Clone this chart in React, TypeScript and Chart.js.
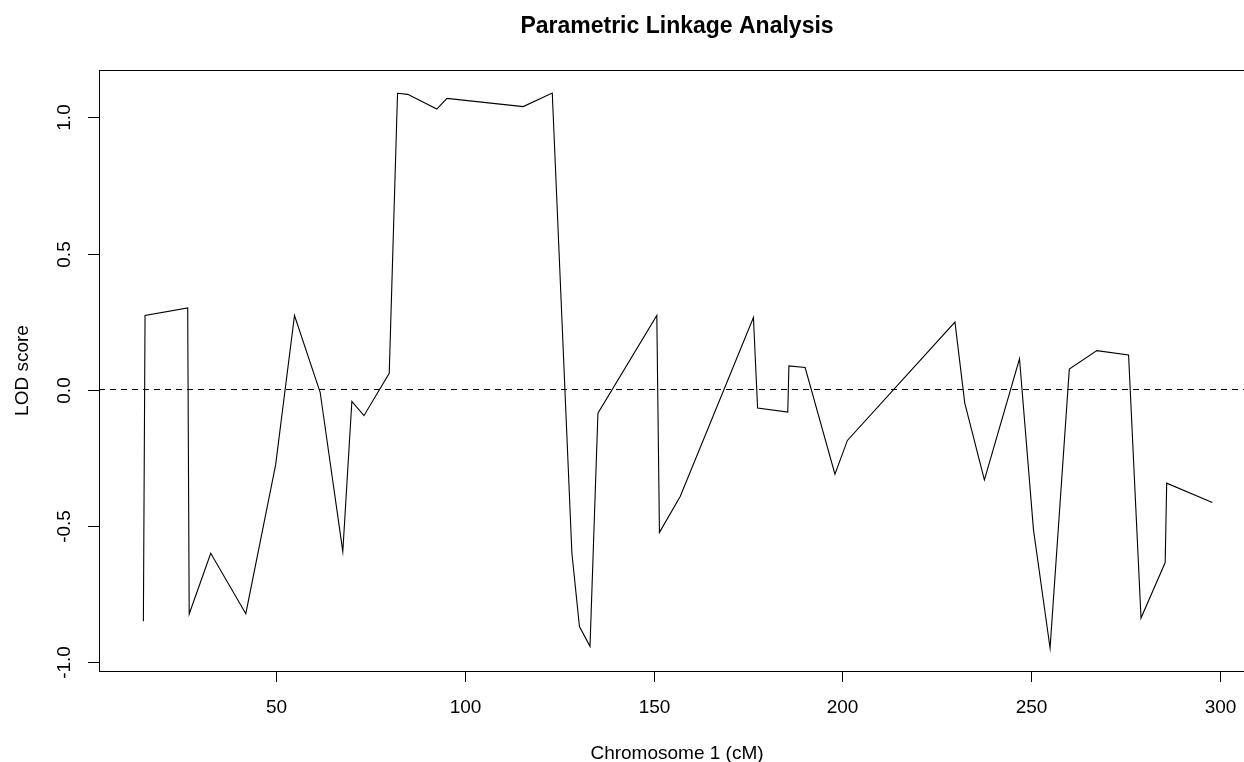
import React, { useEffect, useRef } from "react";
import { Chart, registerables } from "chart.js";

Chart.register(...registerables);

// ---- data ----
const positionsCM = [
  14.76, 15.2, 26.5, 26.9, 32.6, 41.9, 49.8, 54.8, 61.6, 67.6,
  70.0, 73.2, 79.9, 82.1, 84.8, 92.5, 95.2, 115.4, 123.1, 128.3,
  130.3, 133.1, 135.2, 150.8, 151.5, 157.0, 176.4, 177.5, 185.5, 185.8,
  190.1, 198.0, 201.3, 229.8, 232.4, 237.6, 246.9, 250.6, 255.0, 260.1,
  267.4, 275.8, 279.1, 285.5, 285.9, 298.0,
];
const lodScores = [
  -0.852, 0.272, 0.3, -0.825, -0.602, -0.824, -0.277, 0.272, -0.01, -0.595,
  -0.044, -0.096, 0.06, 1.089, 1.085, 1.031, 1.07, 1.04, 1.09, -0.601,
  -0.871, -0.944, -0.087, 0.272, -0.525, -0.393, 0.265, -0.068, -0.083, 0.087,
  0.081, -0.311, -0.187, 0.248, -0.05, -0.332, 0.113, -0.515, -0.95, 0.075,
  0.143, 0.127, -0.84, -0.636, -0.344, -0.415,
];
const xTickValues = [50, 100, 150, 200, 250, 300];
const xTickLabels = ["50", "100", "150", "200", "250", "300"];
const yTickValues = [-1, -0.5, 0, 0.5, 1];
const yTickLabels = ["-1.0", "-0.5", "0.0", "0.5", "1.0"];
const thresholdLOD = 0;
const chartTitle = "Parametric Linkage Analysis";
const xAxisTitle = "Chromosome 1 (cM)";
const yAxisTitle = "LOD score";

// axis ranges (R style 4% expansion)
const X_MIN = 3.0;
const X_MAX = 309.3;
const Y_MIN = -1.0345;
const Y_MAX = 1.1745;

const CANVAS_W = 1270;
const CANVAS_H = 762;
const FONT = "'Liberation Sans', Arial, Helvetica, sans-serif";

const rDecorations = {
  id: "rDecorations",
  afterDraw(chart: any) {
    const ctx = chart.ctx as CanvasRenderingContext2D;
    const area = chart.chartArea;
    const xs = chart.scales.x;
    const ys = chart.scales.y;
    ctx.save();
    ctx.strokeStyle = "#000";
    ctx.fillStyle = "#000";
    ctx.lineWidth = 1;

    // box
    ctx.strokeRect(
      Math.round(area.left) + 0.5,
      Math.round(area.top) + 0.5,
      Math.round(area.right - area.left),
      Math.round(area.bottom - area.top)
    );

    // x ticks
    ctx.font = `19px ${FONT}`;
    ctx.textAlign = "center";
    ctx.textBaseline = "alphabetic";
    xTickValues.forEach((v, i) => {
      const px = Math.round(xs.getPixelForValue(v)) + 0.5;
      ctx.beginPath();
      ctx.moveTo(px, area.bottom);
      ctx.lineTo(px, area.bottom + 11);
      ctx.stroke();
      ctx.fillText(xTickLabels[i], px, area.bottom + 42);
    });

    // y ticks
    yTickValues.forEach((v, i) => {
      const py = Math.round(ys.getPixelForValue(v)) + 0.5;
      ctx.beginPath();
      ctx.moveTo(area.left - 11, py);
      ctx.lineTo(area.left, py);
      ctx.stroke();
      ctx.save();
      ctx.translate(area.left - 29, py);
      ctx.rotate(-Math.PI / 2);
      ctx.fillText(yTickLabels[i], 0, 0);
      ctx.restore();
    });

    // axis titles
    ctx.fillText(xAxisTitle, (area.left + area.right) / 2, area.bottom + 88);
    ctx.save();
    ctx.translate(28, (area.top + area.bottom) / 2);
    ctx.rotate(-Math.PI / 2);
    ctx.fillText(yAxisTitle, 0, 0);
    ctx.restore();

    // main title
    ctx.font = `bold 23px ${FONT}`;
    ctx.fillText(chartTitle, (area.left + area.right) / 2, 33);
    ctx.restore();
  },
};

export default function App() {
  const canvasRef = useRef<HTMLCanvasElement | null>(null);

  useEffect(() => {
    if (!canvasRef.current) return;
    const lodPoints = positionsCM.map((x, i) => ({ x, y: lodScores[i] }));
    const thresholdPoints = [
      { x: X_MIN, y: thresholdLOD },
      { x: X_MAX, y: thresholdLOD },
    ];
    const chart = new Chart(canvasRef.current, {
      type: "scatter",
      data: {
        datasets: [
          {
            label: "threshold",
            data: thresholdPoints,
            showLine: true,
            borderColor: "#000",
            borderWidth: 1,
            borderDash: [6, 5],
            pointRadius: 0,
            tension: 0,
          },
          {
            label: "LOD",
            data: lodPoints,
            showLine: true,
            borderColor: "#000",
            borderWidth: 1.1,
            pointRadius: 0,
            tension: 0,
          },
        ],
      },
      options: {
        responsive: false,
        animation: false,
        devicePixelRatio: 1,
        events: [],
        layout: {
          padding: { left: 99, top: 70, right: CANVAS_W - 1255, bottom: CANVAS_H - 671 },
        },
        scales: {
          x: { type: "linear", min: X_MIN, max: X_MAX, display: false },
          y: { type: "linear", min: Y_MIN, max: Y_MAX, display: false },
        },
        plugins: {
          legend: { display: false },
          tooltip: { enabled: false },
          title: { display: false },
        },
      },
      plugins: [rDecorations],
    });
    return () => chart.destroy();
  }, []);

  return (
    <div
      style={{
        position: "fixed",
        left: 0,
        top: 0,
        width: 1244,
        height: 762,
        overflow: "hidden",
        background: "#fff",
      }}
    >
      <canvas
        ref={canvasRef}
        width={CANVAS_W}
        height={CANVAS_H}
        style={{ width: CANVAS_W, height: CANVAS_H, display: "block" }}
      />
    </div>
  );
}
